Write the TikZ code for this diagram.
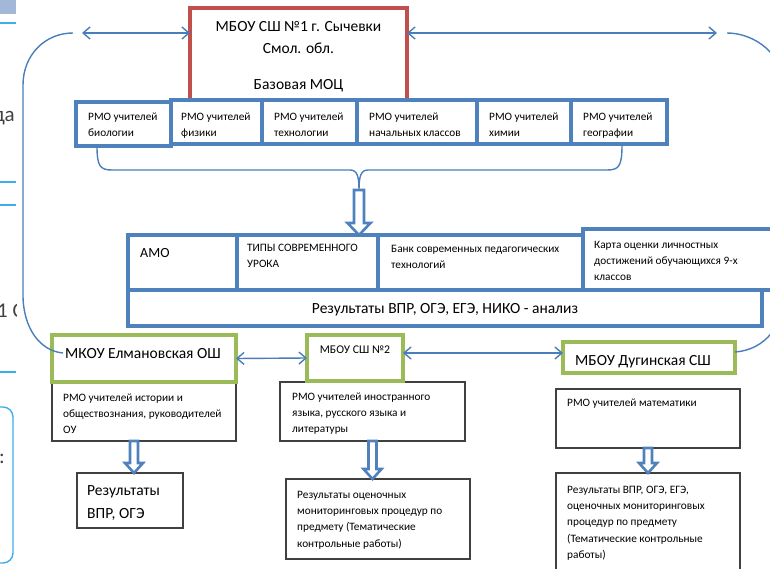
\documentclass[tikz,border=0pt]{standalone}
\usepackage{fontspec}
\setmainfont{Carlito}
\usetikzlibrary{arrows.meta,calc}
\definecolor{ofblue}{HTML}{4F81BD}
\definecolor{lnblue}{HTML}{4A7EBB}
\definecolor{ofred}{HTML}{C0504D}
\definecolor{ofgreen}{HTML}{9BBB59}
\definecolor{dgray}{HTML}{404040}
\definecolor{skyb}{HTML}{3DAEE9}
\definecolor{barb}{HTML}{A3B7D9}
\newcommand\mkbox[6]{\node[#6, anchor=north west, inner sep=0pt, outer sep=0pt, minimum width={#4pt-#2pt}, minimum height={#5pt-#3pt}] (#1) at (#2,#3) {};}
\newcommand\blockarr[5]{\draw[barrow] let \p1=(#1), \p2=(#2) in (\x1-#3pt,\y1) -- (\x1+#3pt,\y1) -- (\x1+#3pt,\y2+#5pt) -- (\x1+#4pt,\y2+#5pt) -- (\x1,\y2) -- (\x1-#4pt,\y2+#5pt) -- (\x1-#3pt,\y2+#5pt) -- cycle;}
\begin{document}
\begin{tikzpicture}[x=1pt,y=-1pt,
  bluebox/.style={draw=ofblue, line width=3.2pt},
  redbox/.style={draw=ofred, line width=3.2pt},
  greenbox/.style={draw=ofgreen, line width=3.2pt},
  graybox/.style={draw=dgray, line width=1.4pt, fill=white},
  conn/.style={draw=lnblue, line width=1.4pt},
  dbl/.style={conn, {Straight Barb[length=7pt,width=12pt]}-{Straight Barb[length=7pt,width=12pt]}},
  barrow/.style={draw=ofblue, line width=2.6pt, fill=white, line join=miter},
  sm/.style={font=\fontsize{11.3}{16.3}\selectfont, align=left, inner sep=0pt, anchor=north west},
  big/.style={font=\fontsize{15.5}{22}\selectfont, inner sep=0pt},
  frag/.style={font=\fontsize{21}{25}\selectfont, text=dgray, inner sep=0pt}]
\useasboundingbox (0,0) rectangle (770,569);
% fragments of the slide at the left edge
\begin{scope}
\clip (0,0) rectangle (16,569);
\fill[barb] (0,0) rectangle (16,14);
\draw[skyb, line width=1.6pt] (0,23) -- (16,23);
\draw[skyb, line width=1.6pt] (0,182) -- (16,182);
\draw[skyb, line width=1.6pt] (0,205) -- (16,205);
\draw[skyb, line width=1.6pt] (0,372) -- (16,372);
\node[frag, anchor=base east] (fr1) at (15,122) {да};
\node[frag, anchor=base west] (fr2) at (-3,317) {1 С};
\node[frag, anchor=base west] (fr3) at (-1,463) {:};
\draw[skyb, line width=1.4pt, rounded corners=10pt] (-20,407) rectangle (13,563);
\end{scope}
% base centre
\mkbox{moc}{190}{8}{407}{100}{redbox}
\node[big, align=center, anchor=north] (moct) at (298.5,15.6) {\strut МБОУ СШ №1 г. Сычевки\\Смол. обл.\\[14pt]Базовая МОЦ};
% RMO row
\mkbox{phys}{171}{100}{262}{144}{bluebox}
\mkbox{tech}{262}{100}{357}{144}{bluebox}
\mkbox{nach}{357}{100}{477}{144}{bluebox}
\mkbox{chem}{477}{100}{571}{144}{bluebox}
\mkbox{geo}{571}{100}{667}{144}{bluebox}
\mkbox{bio}{76}{102}{171}{146}{bluebox}
\node[sm] (biot) at (88,108.6) {\strut РМО учителей\\биологии};
\node[sm] (physt) at (181,108.6) {\strut РМО учителей\\физики};
\node[sm] (techt) at (274,108.6) {\strut РМО учителей\\технологии};
\node[sm] (nacht) at (369,108.6) {\strut РМО учителей\\начальных классов};
\node[sm] (chemt) at (489,108.6) {\strut РМО учителей\\химии};
\node[sm] (geot) at (583,108.6) {\strut РМО учителей\\географии};
% brace
\coordinate (brL) at (97,146);
\coordinate (brM) at (359,190);
\coordinate (brR) at (622,145);
\draw[conn] (brL) .. controls (97,166) and (100,170) .. (112,170) -- (350,170) .. controls (357,170) and (359,176) .. (brM) .. controls (359,176) and (361,170) .. (368,170) -- (607,170) .. controls (619,170) and (622,166) .. (brR);
% centre block
\mkbox{amo}{128}{235}{237}{290}{bluebox}
\mkbox{tipy}{237}{235}{378}{290}{bluebox}
\mkbox{bank}{378}{235}{583}{290}{bluebox}
\mkbox{karta}{583}{229}{790}{290}{bluebox}
\mkbox{res}{128}{290}{762}{326}{bluebox}
\blockarr{brM}{brM |- tipy.north}{5}{11.5}{12}
\node[font=\fontsize{14}{17}\selectfont, inner sep=0pt, anchor=base west] (amot) at (140,257) {АМО};
\node[sm] (tipyt) at (247,239.6) {\strut ТИПЫ СОВРЕМЕННОГО\\УРОКА};
\node[sm] (bankt) at (391,240.6) {\strut Банк современных педагогических\\технологий};
\node[sm] (kartat) at (594,236.6) {\strut Карта оценки личностных\\достижений обучающихся 9-х\\классов};
\node[big, anchor=base] (rest) at (445,313) {Результаты ВПР, ОГЭ, ЕГЭ, НИКО - анализ};
% lower schools
\mkbox{elmr}{52}{382}{236}{441}{graybox}
\mkbox{elm}{52}{335}{236}{382}{greenbox}
\mkbox{elmres}{77}{473}{183}{528}{graybox}
\mkbox{shbr}{280}{382}{465}{441}{graybox}
\mkbox{shb}{307}{335}{403}{381}{greenbox}
\mkbox{shbres}{286}{479}{470}{559}{graybox}
\mkbox{dug}{563}{342}{735}{373}{greenbox}
\mkbox{dugr}{556}{389}{740}{448}{graybox}
\mkbox{dugres}{556}{473}{740}{600}{graybox}
\node[big, anchor=base] (elmt) at (143,358) {МКОУ Елмановская ОШ};
\node[sm] (elmrt) at (63,389.6) {\strut РМО учителей истории и\\обществознания, руководителей\\ОУ};
\node[font=\fontsize{15.5}{23}\selectfont, align=left, inner sep=0pt, anchor=north west] (elmrest) at (87,478.9) {\strut Результаты\\ВПР, ОГЭ};
\node[font=\fontsize{11.8}{14}\selectfont, inner sep=0pt, anchor=base] (shbt) at (355,353) {МБОУ СШ №2};
\node[sm] (shbrt) at (292,388.6) {\strut РМО учителей иностранного\\языка, русского языка и\\литературы};
\node[sm] (shbrest) at (297,486.6) {\strut Результаты оценочных\\мониторинговых процедур по\\предмету (Тематические\\контрольные работы)};
\node[big, anchor=base west] (dugt) at (575,365) {МБОУ Дугинская СШ};
\node[sm] (dugrt) at (567,394.6) {\strut РМО учителей математики};
\node[sm] (dugrest) at (567,481.6) {\strut Результаты ВПР, ОГЭ, ЕГЭ,\\оценочных мониторинговых\\процедур по предмету\\(Тематические контрольные\\работы)};
\coordinate (ea) at (134,441);
\blockarr{ea}{ea |- elmres.north}{4}{9}{10}
\blockarr{shbr.south}{shbres.north}{4}{9}{10}
\blockarr{dugr.south}{dugres.north}{4}{9}{10}
% double arrows
\coordinate (tl) at (82,33);
\coordinate (tr) at (717,33);
\draw[dbl] (tl) -- (tl -| moc.west);
\draw[dbl] (moc.east |- tr) -- (tr);
\draw[dbl] (elm.east) -- (shb.west);
\draw[dbl] ([yshift=5pt]shb.east) -- ([yshift=5pt]shb.east -| dug.west);
% arcs
\coordinate (a1) at (73,33);
\coordinate (a2) at (63,353);
\draw[conn] (a1) .. controls (45,33) and (23,55) .. (23,85) -- (23,295) .. controls (23,328) and (40,351) .. (a2);
\coordinate (b1) at (727,33);
\coordinate (b2) at (735,352);
\draw[conn] (b1) .. controls (755,33) and (785,55) .. (785,90) -- (785,290) .. controls (785,325) and (765,350) .. (b2);
\end{tikzpicture}
\end{document}
